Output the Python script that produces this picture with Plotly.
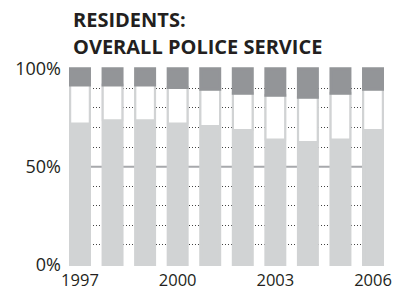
import plotly.graph_objects as go

years = ["1997", "1998", "1999", "2000", "2001", "2002", "2003", "2004", "2005", "2006"]
satisfied = [72, 73.7, 73.7, 72, 70.8, 68.7, 63.9, 62.6, 63.9, 68.7]
neutral = [19.7, 18, 18, 18.5, 18.7, 18.8, 22.6, 22.8, 23.6, 20.8]
dissatisfied = [8.3, 8.3, 8.3, 9.5, 10.5, 12.5, 13.5, 14.6, 12.5, 10.5]

x_tick_labels = ["1997", "2000", "2003", "2006"]
y_tick_vals = [0, 50, 100]
y_tick_labels = ["0%", "50%", "100%"]
grid_vals = [10, 20, 30, 40, 60, 70, 80, 90]
title_lines = ["RESIDENTS:", "OVERALL POLICE SERVICE"]

LIGHT = "#d1d3d4"
DARK = "#939598"
TEXT = "#231f20"

xs = list(range(len(years)))
tops = [s + n for s, n in zip(satisfied, neutral)]

fig = go.Figure()
fig.add_trace(go.Bar(x=xs, y=tops, base=0, width=0.583,
                     marker=dict(color=LIGHT, line=dict(color=LIGHT, width=3)),
                     hoverinfo="skip"))
fig.add_trace(go.Bar(x=xs, y=neutral, base=satisfied, width=0.60,
                     marker=dict(color="white", line=dict(color=LIGHT, width=2)),
                     hoverinfo="skip"))
fig.add_trace(go.Bar(x=xs, y=dissatisfied, base=tops, width=0.583,
                     marker=dict(color=DARK, line=dict(color=DARK, width=3)),
                     hoverinfo="skip"))

fig.add_shape(type="line", xref="paper", x0=0, x1=1, yref="y", y0=50, y1=50,
              line=dict(color="#a7a9ac", width=2), layer="between")

PLOT_TOP = 66
PLOT_H = 290 - 66 - 23
for line, ymid in zip(title_lines, [19, 46.3]):
    fig.add_annotation(text="<b>%s</b>" % line, xref="paper", yref="paper",
                       x=(72 - 69) / 315, xanchor="left",
                       y=1 + (PLOT_TOP - ymid) / PLOT_H, yanchor="middle",
                       showarrow=False, borderpad=0,
                       font=dict(family="Open Sans", size=20, color=TEXT))

fig.update_layout(
    width=394, height=290,
    margin=dict(l=69, r=10, t=66, b=23, autoexpand=False),
    barmode="overlay",
    showlegend=False,
    paper_bgcolor="white", plot_bgcolor="white",
    font=dict(family="Open Sans", color=TEXT, size=17),
    xaxis=dict(range=[-0.3375, 9.3375], tickmode="array", tickvals=[0, 3, 6, 9],
               ticktext=x_tick_labels, showgrid=False, zeroline=False,
               showline=False, ticks="", ticklabelstandoff=1, automargin=False,
               tickfont=dict(size=16.5)),
    yaxis=dict(range=[-1.28, 101.43], tickmode="array", tickvals=y_tick_vals,
               ticktext=y_tick_labels, showgrid=False, zeroline=False,
               showline=False, ticks="", ticklabelstandoff=7, automargin=False,
               tickfont=dict(size=18),
               minor=dict(tickmode="array", tickvals=grid_vals, showgrid=True,
                          griddash="1px,2px", gridcolor="#444444", gridwidth=1,
                          ticks="")),
)

fig.write_html("out.html", config={"displayModeBar": False},
               post_script="document.body.style.margin='0';document.body.style.overflow='hidden';")
